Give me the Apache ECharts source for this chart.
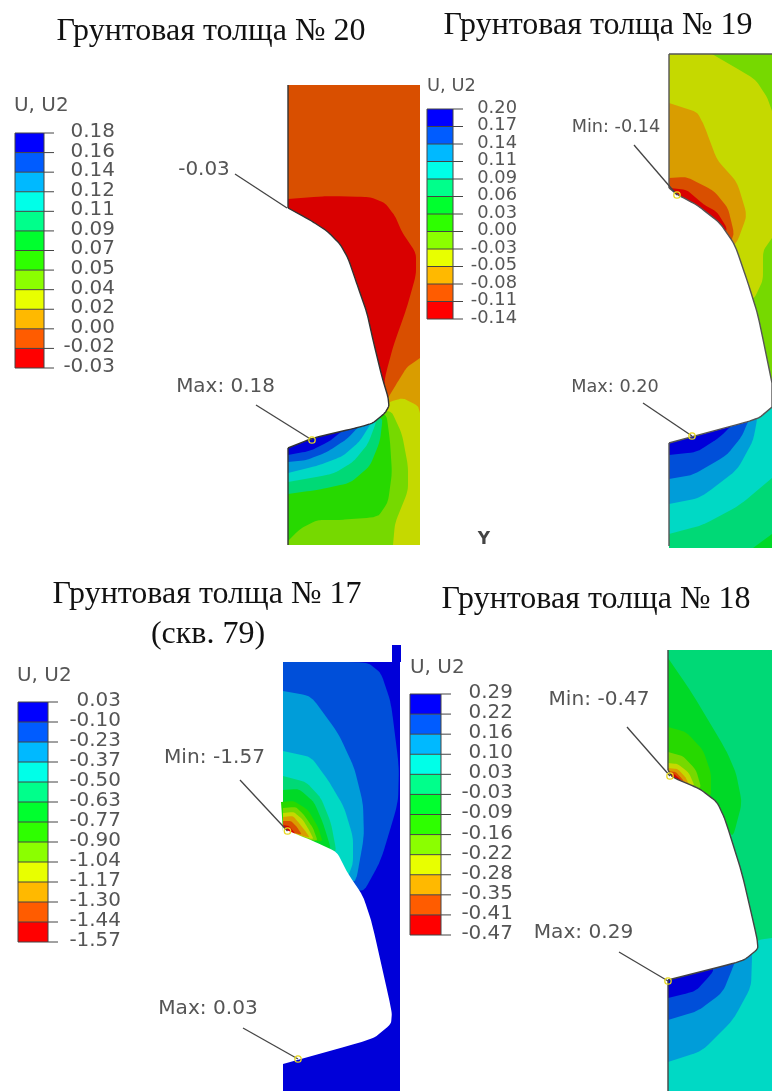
<!DOCTYPE html>
<html><head><meta charset="utf-8">
<style>html,body{margin:0;padding:0;background:#fff}#main{width:772px;height:1091px;filter:blur(0.45px)}</style>
<script src="https://cdn.jsdelivr.net/npm/echarts@6/dist/echarts.min.js"></script>
</head><body><div id="main"></div>
<script>
// colour scales: legend swatches and the dimmer shaded contour fills
const legendColors = ['#0000ff','#005cff','#00b9ff','#00ffe8','#00ff8b','#00ff2e','#2eff00','#8bff00','#e8ff00','#ffb900','#ff5c00','#ff0000'];
const fieldColors  = ['#0000d9','#004fd9','#009dd9','#00d9c5','#00d976','#00d927','#27d900','#76d900','#c5d900','#d99d00','#d94f00','#d90000'];

// legend tick labels
const ticks20 = ['0.18','0.16','0.14','0.12','0.11','0.09','0.07','0.05','0.04','0.02','0.00','-0.02','-0.03'];
const ticks19 = ['0.20','0.17','0.14','0.11','0.09','0.06','0.03','0.00','-0.03','-0.05','-0.08','-0.11','-0.14'];
const ticks17 = ['0.03','-0.10','-0.23','-0.37','-0.50','-0.63','-0.77','-0.90','-1.04','-1.17','-1.30','-1.44','-1.57'];
const ticks18 = ['0.29','0.22','0.16','0.10','0.03','-0.03','-0.09','-0.16','-0.22','-0.28','-0.35','-0.41','-0.47'];

// contour regions: [colour index, outline], painted in order
const regions20 = [
 [10,[[288,85],[420,85],[420,545],[288,545]]],
 [11,[[288,199],[327,196],[370,197],[385,203],[395,216],[402,232],[416,253],[416,275],[407,307],[393,347],[385,377],[384,395],[288,300]]],
 [9,[[420,358],[407,367],[397,383],[388,398],[380,415],[420,420]]],
 [8,[[389,402],[403,398],[418,406],[420,413],[420,545],[288,545],[288,430],[380,412]]],
 [7,[[390,408],[402,434],[408,466],[408,491],[395,523],[393,545],[288,545],[288,430]]],
 [6,[[386,411],[390,441],[392,473],[388,502],[378,517],[340,520],[317,520],[300,529],[288,541],[288,430]]],
 [4,[[383,415],[380,441],[370,466],[350,483],[317,490],[288,494],[288,430]]],
 [3,[[378,417],[368,444],[353,462],[333,474],[288,482],[288,430]]],
 [2,[[373,420],[360,441],[343,456],[320,465],[288,473],[288,430]]],
 [1,[[363,422],[347,439],[327,452],[307,460],[288,462],[288,430]]],
 [0,[[347,427],[330,441],[310,451],[288,455],[288,430]]]
];
const regions19 = [
 [7,[[669,54],[772,54],[772,420],[669,420]]],
 [8,[[712,54],[755,79],[767,97],[772,111],[772,238],[763,251],[763,280],[755,297],[750,300],[669,200],[669,54]]],
 [9,[[669,103],[697,112],[704,125],[717,160],[737,182],[747,215],[738,240],[730,250],[669,195]]],
 [10,[[669,178],[687,177],[714,191],[728,208],[734,233],[730,245],[669,195]]],
 [11,[[670,188],[687,190],[703,204],[717,212],[727,228],[724,238],[669,200]]],
 [4,[[669,407],[772,400],[772,548],[669,548]]],
 [5,[[772,534],[753,548],[772,548]]],
 [3,[[772,400],[772,478],[740,505],[703,525],[669,534],[669,430]]],
 [2,[[758,415],[753,441],[737,470],[700,498],[669,504],[669,430]]],
 [1,[[750,417],[742,436],[727,455],[693,475],[669,479],[669,430]]],
 [0,[[737,420],[720,437],[697,452],[669,455],[669,430]]]
];
const regions17 = [
 [0,[[283,662],[400,662],[400,1091],[283,1091]]],
 [0,[[392,645],[401,645],[401,662],[392,662]]],
 [1,[[283,662],[367,662],[381,673],[391,703],[399,767],[398,803],[381,860],[362,895],[283,860]]],
 [2,[[283,691],[311,696],[338,733],[354,767],[363,803],[364,837],[355,887],[283,860]]],
 [3,[[283,751],[311,757],[328,780],[344,807],[353,837],[353,863],[348,877],[283,850]]],
 [4,[[283,776],[306,782],[321,798],[331,823],[337,855],[283,840]]],
 [5,[[283,790],[299,789],[314,802],[323,823],[332,852],[283,835]]],
 [6,[[281,802],[294,801],[308,810],[318,827],[323,843],[283,832]]],
 [7,[[283,808],[296,807],[304,815],[313,828],[318,842],[283,832]]],
 [8,[[283,813],[294,812],[303,820],[309,830],[314,840],[283,830]]],
 [9,[[283,817],[293,816],[299,823],[306,832],[310,838],[283,830]]],
 [10,[[283,821],[291,821],[297,827],[302,835],[283,830]]],
 [11,[[283,825],[289,826],[294,832],[297,837],[283,830]]]
];
const regions18 = [
 [4,[[668,650],[772,650],[772,945],[668,945]]],
 [5,[[668,658],[692,693],[726,750],[736,773],[742,803],[733,837],[725,825],[668,775]]],
 [6,[[668,727],[686,732],[703,750],[711,773],[711,797],[700,795],[668,775]]],
 [7,[[668,752],[683,756],[696,770],[701,787],[695,790],[668,775]]],
 [8,[[668,763],[678,764],[689,773],[695,787],[668,775]]],
 [9,[[668,768],[678,769],[686,778],[690,787],[668,775]]],
 [10,[[668,771],[676,772],[683,780],[685,784],[668,775]]],
 [11,[[668,774],[674,774],[681,780],[668,778]]],
 [3,[[772,938],[758,940],[745,955],[668,965],[668,1091],[772,1091]]],
 [2,[[752,950],[752,958],[751,987],[733,1020],[702,1051],[668,1062],[668,965]]],
 [1,[[737,955],[735,962],[723,992],[698,1011],[668,1020],[668,965]]],
 [0,[[713,964],[713,972],[696,991],[668,998],[668,965]]]
];

// boundary of the white cut-out in each panel
const notch20 = [[288,208],[310,220],[327,231],[340,244],[348,258],[358,287],[367,313],[373,340],[382,377],[388,397],[389,406],[385,413],[373,423],[360,427],[313,438],[288,448]];
const notch19 = [[669,188],[678,195],[697,205],[720,223],[735,245],[748,283],[758,315],[772,383],[772,407],[758,419],[669,443]];
const notch17 = [[283,825],[284,829],[313,841],[337,852],[347,872],[363,896],[372,923],[392,1012],[391,1024],[373,1039],[283,1064]];
const notch18 = [[668,770],[672,777],[700,789],[717,802],[725,819],[742,873],[757,938],[758,949],[743,961],[668,980]];

// panel extents: points on these limits stay sharp when outlines are rounded
const box20 = [288,85,420,545], box19 = [669,54,772,548], box17 = [283,645,401,1091], box18 = [668,650,772,1091];

// outer left edges drawn in dark
const edges20 = [[[288,85],[288,208]],[[288,448],[288,545]]];
const edges19 = [[[669,54],[669,188]],[[669,443],[669,546]],[[669,54],[772,54]]];
const edges18 = [[[668,650],[668,770]],[[668,980],[668,1091]]];

// callouts: label, label centre, leader start, picked node, font size, x stretch
const callouts = [
 ['-0.03',[204,170],[235,174],[287,208],false,19,1.05],
 ['Max: 0.18',[225.5,387],[256,405],[312,440],true,19,1.05],
 ['Min: -0.14',[616,127],[634,145],[677,195],true,17.5,1.01],
 ['Max: 0.20',[615,387],[643,403],[692,436],true,17.5,1.01],
 ['Min: -1.57',[214.5,758],[240,780],[287.5,831],true,19,1.06],
 ['Max: 0.03',[208,1009],[243,1028],[298,1059],true,19,1.06],
 ['Min: -0.47',[599,700],[627,727],[670,776],true,19,1.06],
 ['Max: 0.29',[583.5,933],[619,952],[668,981],true,19,1.06]
];

const titles = [
 ['Грунтовая толща № 20',[211,32]],
 ['Грунтовая толща № 19',[598,26]],
 ['Грунтовая толща № 17',[207,595]],
 ['(скв. 79)',[208,635]],
 ['Грунтовая толща № 18',[596,600]]
];

const legends = [
 {ticks:ticks20,x0:15,x1:44,x2:54,y0:133,y1:368,tx:115,dy:-1,head:[14,106.5],size:19,sx:1.05},
 {ticks:ticks19,x0:427,x1:453,x2:463,y0:109,y1:319,tx:517,dy:-1,head:[427,86],size:17.5,sx:1.02},
 {ticks:ticks17,x0:18,x1:48,x2:58,y0:702,y1:942,tx:121,dy:-1,head:[17,676],size:19,sx:1.05},
 {ticks:ticks18,x0:410,x1:441,x2:451,y0:694,y1:935,tx:513,dy:-1,head:[410,668],size:19,sx:1.05}
];

// corner rounding of the hand-read outlines; points on the panel limits stay sharp
function round(pts,box){
  if(pts.length<5) return pts;
  const fixed=p=>p[0]<=box[0]+1||p[0]>=box[2]-1||p[1]<=box[1]+1||p[1]>=box[3]-1;
  let cur=pts.map(p=>({p,k:fixed(p)}));
  for(let it=0;it<3;it++){
    const out=[];
    cur.forEach((a,i)=>{
      const b=cur[(i+1)%cur.length], z=cur[(i-1+cur.length)%cur.length];
      if(a.k){out.push(a);return;}
      out.push({p:[a.p[0]+(z.p[0]-a.p[0])*.13,a.p[1]+(z.p[1]-a.p[1])*.13],k:false});
      out.push({p:[a.p[0]+(b.p[0]-a.p[0])*.13,a.p[1]+(b.p[1]-a.p[1])*.13],k:false});
    });
    cur=out;
  }
  return cur.map(a=>a.p);
}

const marks = [];
[[regions20,notch20,edges20,'#333',box20],[regions19,notch19,edges19,'#555',box19],[regions17,notch17,[],null,box17],[regions18,notch18,edges18,'#444',box18]].forEach(([regs,notch,edges,ink,box])=>{
  regs.forEach(([c,pts])=>marks.push({t:'poly',pts:round(pts,box),fill:fieldColors[c]}));
  const rn=round(notch,box);
  marks.push({t:'poly',pts:rn,fill:'#fff'});
  if(ink){
    marks.push({t:'line',pts:rn,color:ink,w:1.4});
    edges.forEach(e=>marks.push({t:'line',pts:e,color:ink,w:1.4}));
  }
});
legends.forEach(L=>{
  const n=L.ticks.length-1, h=(L.y1-L.y0)/n;
  for(let i=0;i<n;i++){
    const a=L.y0+i*h,b=a+h;
    marks.push({t:'poly',pts:[[L.x0,a],[L.x1,a],[L.x1,b],[L.x0,b]],fill:legendColors[i]});
  }
  marks.push({t:'line',pts:[[L.x0,L.y0],[L.x0,L.y1]],color:'#444',w:1});
  marks.push({t:'line',pts:[[L.x1,L.y0],[L.x1,L.y1]],color:'#444',w:1});
  L.ticks.forEach((s,i)=>{
    const y=L.y0+i*h;
    marks.push({t:'line',pts:[[L.x0,y],[L.x2,y]],color:'#444',w:1});
    marks.push({t:'text',text:s,at:[L.tx,y+L.dy],align:'right',size:L.size,sx:L.sx,color:'#555',font:'DejaVu Sans'});
  });
  marks.push({t:'text',text:'U, U2',at:L.head,align:'left',size:L.size,sx:L.sx,color:'#555',font:'DejaVu Sans'});
});
callouts.forEach(([s,c,a,b,ring,size,sx])=>{
  marks.push({t:'line',pts:[a,b],color:'#444',w:1.3});
  if(ring) marks.push({t:'ring',at:b});
  marks.push({t:'text',text:s,at:c,align:'center',size,sx,color:'#555',font:'DejaVu Sans'});
});
marks.push({t:'text',text:'Y',at:[484,540],align:'center',size:17,sx:1,color:'#444',font:'DejaVu Sans',bold:true});
titles.forEach(([s,c])=>marks.push({t:'text',text:s,at:c,align:'center',size:32,sx:1,color:'#111',font:'Liberation Serif'}));

function renderItem(params,api){
  const m=marks[params.dataIndex];
  if(m.t==='poly') return {type:'polygon',silent:true,shape:{points:m.pts.map(p=>api.coord(p))},style:{fill:m.fill}};
  if(m.t==='line') return {type:'polyline',silent:true,shape:{points:m.pts.map(p=>api.coord(p))},style:{fill:'none',stroke:m.color,lineWidth:m.w}};
  if(m.t==='ring'){const c=api.coord(m.at);return {type:'circle',silent:true,shape:{cx:c[0],cy:c[1],r:3.2},style:{fill:'none',stroke:'#e6d820',lineWidth:1.3}};}
  const c=api.coord(m.at);
  return {type:'text',silent:true,x:c[0],y:c[1],scaleX:m.sx,style:{text:m.text,align:m.align,verticalAlign:'middle',fontSize:m.size,fontFamily:m.font,fontWeight:m.bold?'bold':'normal',fill:m.color}};
}
const chart=echarts.init(document.getElementById('main'),null,{width:772,height:1091});
chart.setOption({
  animation:false,
  backgroundColor:'#fff',
  grid:{left:0,right:0,top:0,bottom:0},
  xAxis:{type:'value',min:0,max:772,show:false},
  yAxis:{type:'value',min:0,max:1091,inverse:true,show:false},
  tooltip:{show:false},
  series:[{type:'custom',coordinateSystem:'cartesian2d',clip:false,renderItem,data:marks.map((m,i)=>[i,0]),encode:{x:0,y:1}}]
});
</script></body></html>
